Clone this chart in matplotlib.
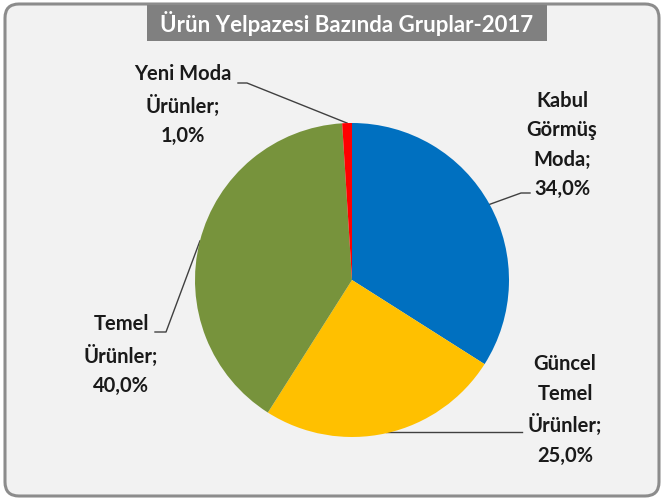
import numpy as np
import matplotlib.pyplot as plt
from matplotlib.patches import FancyBboxPatch

# data
kategoriler = ['Kabul\nGörmüş\nModa', 'Güncel\nTemel\nÜrünler', 'Temel\nÜrünler', 'Yeni Moda\nÜrünler']
oranlar = [34.0, 25.0, 40.0, 1.0]
renkler = ['#0070C0', '#FFC000', '#77933C', '#FF0000']
baslik = 'Ürün Yelpazesi Bazında Gruplar-2017'

W, H = 664, 501
fig = plt.figure(figsize=(W / 100, H / 100), dpi=100)
fig.patch.set_facecolor('white')
ax = fig.add_axes([0, 0, 1, 1])
ax.set_xlim(0, W)
ax.set_ylim(H, 0)
ax.axis('off')

# background with rounded border
bg = FancyBboxPatch((5, 4), W - 10, H - 9, boxstyle='round,pad=0,rounding_size=14',
                    facecolor='#F2F2F2', edgecolor='#8C8C8C', lw=2.2)
ax.add_patch(bg)

# pie drawn in its own axes
cx, cy, r = 352, 280, 157
pax = fig.add_axes([(cx - r) / W, 1 - (cy + r) / H, 2 * r / W, 2 * r / H])
wedges, _ = pax.pie(oranlar, colors=renkler, startangle=90, counterclock=False,
                    wedgeprops=dict(linewidth=0), frame=False)
pax.set_aspect('auto')
pax.set_xlim(-1, 1)
pax.set_ylim(-1, 1)
pax.axis('off')

fnt = dict(family=['Lato', 'DejaVu Sans'], weight='bold', fontsize=14.5, color='#1a1a1a')

# label block positions (pixel layout) and leader elbows
metin_yer = [(562, 145), (565, 410), (121, 355), (183, 105)]
dirsekler = [[(521, 193), (530, 193)],
             [(522, 432)],
             [(166, 332), (155, 332)],
             [(247, 83), (238, 83)]]

for w, kat, val, (tx, ty), elb in zip(wedges, kategoriler, oranlar, metin_yer, dirsekler):
    ang = np.deg2rad((w.theta1 + w.theta2) / 2)
    px = cx + r * np.cos(ang)
    py = cy - r * np.sin(ang)
    xs = [px] + [e[0] for e in elb]
    ys = [py] + [e[1] for e in elb]
    if len(elb) == 1:
        ys[0] = elb[0][1]
    ax.plot(xs, ys, color='#404040', lw=1.0, zorder=5)
    etiket = kat + ';\n' + ('%.1f' % val).replace('.', ',') + '%'
    ax.text(tx, ty, etiket, ha='center', va='center', linespacing=1.6, **fnt)

# title
ax.add_patch(plt.Rectangle((147, 5), 400, 36, facecolor='#808080', edgecolor='none', zorder=3))
ax.text(347, 23, baslik, ha='center', va='center', color='white', zorder=4,
        family=['Lato', 'DejaVu Sans'], weight='bold', fontsize=16)

fig.savefig('out.png', dpi=100)
